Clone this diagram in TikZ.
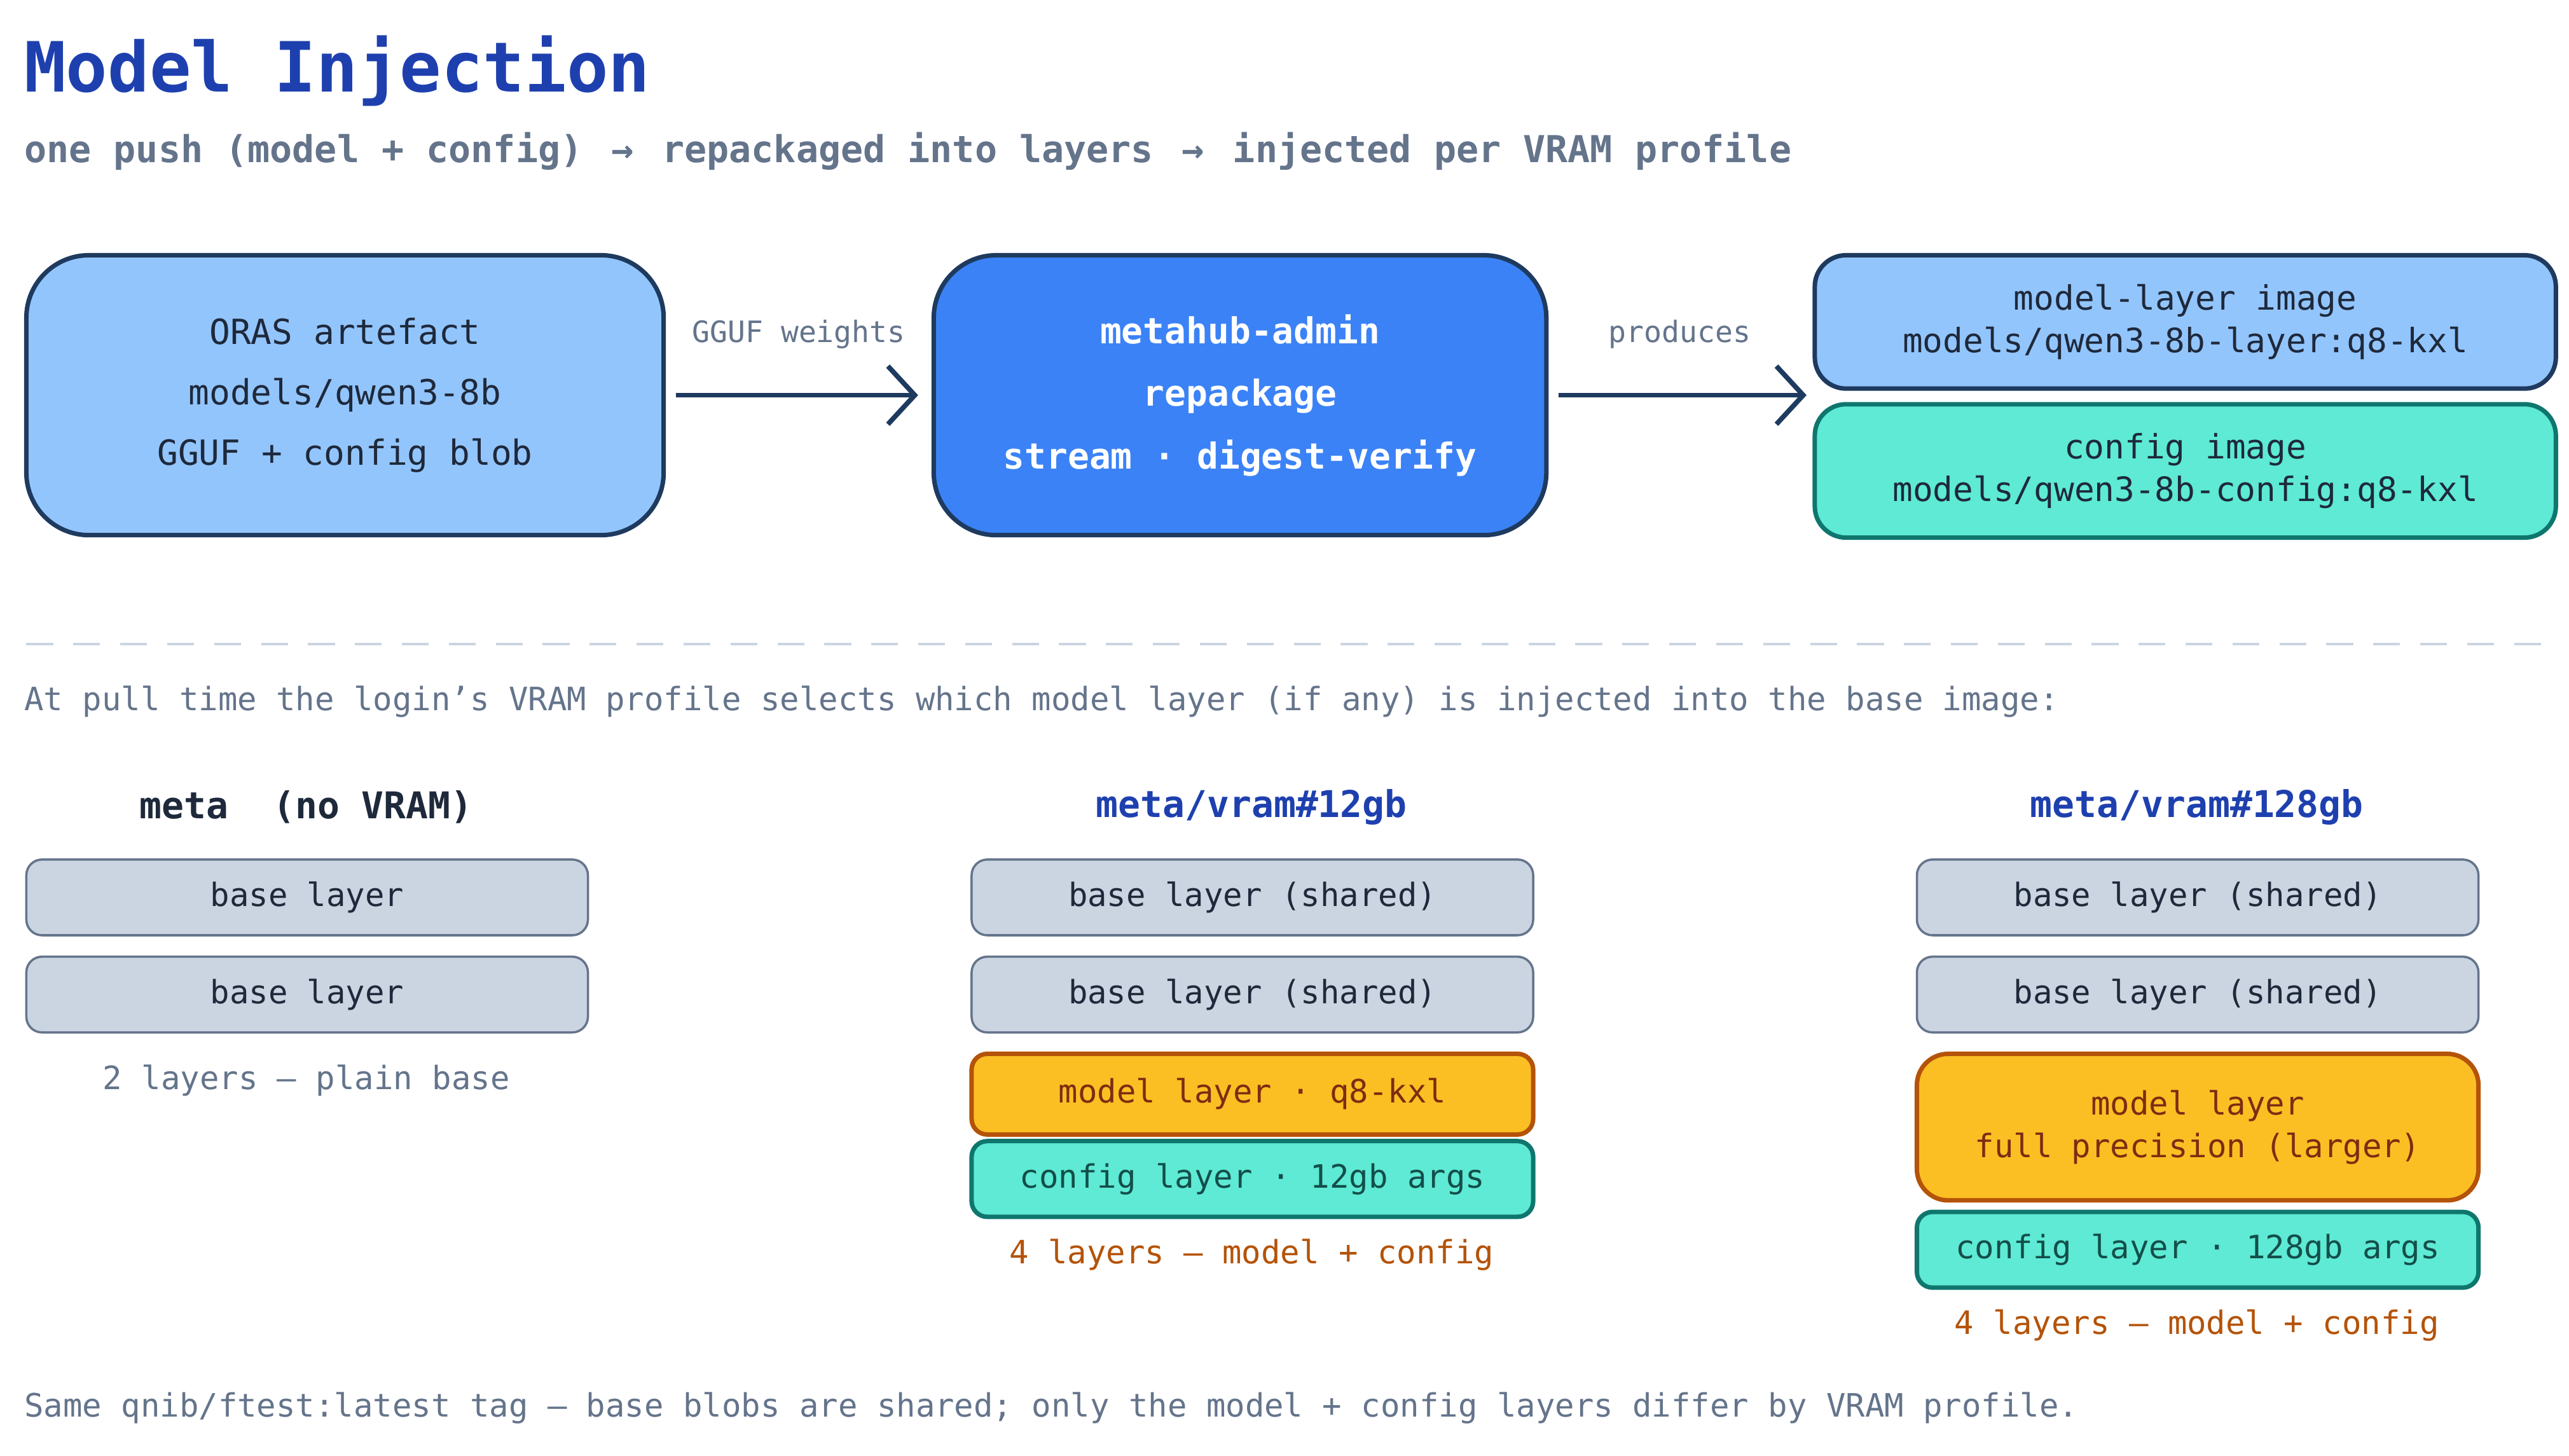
\documentclass[tikz,border=0pt]{standalone}
\usepackage{fontspec}
\setmainfont{DejaVu Sans Mono}
\usetikzlibrary{arrows.meta,positioning}
\definecolor{navy}{HTML}{1E3A5F}
\definecolor{ink}{HTML}{1E293B}
\definecolor{slate}{HTML}{64748B}
\definecolor{titleblue}{HTML}{1E40AF}
\definecolor{lightblue}{HTML}{93C5FD}
\definecolor{midblue}{HTML}{3B82F6}
\definecolor{tealfill}{HTML}{5EEAD4}
\definecolor{tealdraw}{HTML}{0F766E}
\definecolor{tealink}{HTML}{134E4A}
\definecolor{amberfill}{HTML}{FBBF24}
\definecolor{amberdraw}{HTML}{B45309}
\definecolor{amberink}{HTML}{7C2D12}
\definecolor{basefill}{HTML}{CBD5E1}
\definecolor{dashgray}{HTML}{CBD5E1}

\tikzset{
    big/.style={draw=navy,line width=2pt,rounded corners=28pt,align=center,font=\fontsize{15.5}{27}\selectfont,text=ink},
    img/.style={draw=navy,line width=2pt,rounded corners=14pt,align=center,font=\fontsize{15}{19}\selectfont,text=ink,minimum width=450*0.0259cm,minimum height=81*0.0259cm},
    base/.style={draw=slate,fill=basefill,line width=1pt,rounded corners=7pt,font=\fontsize{14.4}{17}\selectfont,text=ink,minimum width=341*0.0259cm,minimum height=46*0.0259cm},
    mdl/.style={base,draw=amberdraw,fill=amberfill,line width=2pt,text=amberink,align=center,font=\fontsize{14.4}{19}\selectfont},
    cfg/.style={base,draw=tealdraw,fill=tealfill,line width=2pt,text=tealink},
    flow/.style={draw=navy,line width=2.2pt,-{Straight Barb[length=12pt,width=26pt,line width=2.2pt]}},
    note/.style={text=slate,font=\fontsize{14.4}{17}\selectfont},
    head/.style={font=\bfseries\fontsize{16.5}{20}\selectfont},
    tally/.style={text=amberdraw,font=\fontsize{14.4}{17}\selectfont},
}

\begin{document}
\begin{tikzpicture}[x=0.0259cm,y=-0.0259cm]
    \useasboundingbox (0,0) rectangle (1560,884);

    % heading
    \node[anchor=west,text=titleblue,font=\bfseries\fontsize{31}{36}\selectfont] (title) at (10,43) {Model Injection};
    \node[anchor=west,text=slate,font=\bfseries\fontsize{16.6}{20}\selectfont] (sub) at (10,92)
        {one push (model + config) \,\textrightarrow\, repackaged into layers \,\textrightarrow\, injected per VRAM profile};

    % push -> repackage -> images
    \node[big,fill=lightblue,minimum width=387*0.0259cm,minimum height=170*0.0259cm] (oras) at (209.5,240)
        {ORAS artefact\\models/qwen3-8b\\GGUF + config blob};
    \node[big,fill=midblue,text=white,font=\bfseries\fontsize{16}{28}\selectfont,minimum width=372*0.0259cm,minimum height=170*0.0259cm] (admin) at (753,240)
        {metahub-admin\\repackage\\stream · digest-verify};
    \node[img,fill=lightblue] (mimg) at (1327,195.5) {model-layer image\\models/qwen3-8b-layer:q8-kxl};
    \node[img,fill=tealfill,draw=tealdraw] (cimg) at (1327,286) {config image\\models/qwen3-8b-config:q8-kxl};
    \coordinate (cin) at (1097,240);

    \draw[flow] (oras.east) ++(6,0) coordinate (o1) -- ([xshift=-6pt]admin.west);
    \draw[flow] (admin.east) ++(6,0) coordinate (a1) -- (cin);
    \node[note,font=\fontsize{13.2}{16}\selectfont] (lw) at (485,203) {GGUF weights};
    \node[note,font=\fontsize{13.2}{16}\selectfont] (lp) at (1020,203) {produces};

    \draw[dashgray,line width=1.2pt,dash pattern=on 12pt off 9pt] (16,391) -- (1552,391);
    \node[note,anchor=west] (pull) at (10,426)
        {At pull time the login's VRAM profile selects which model layer (if any) is injected into the base image:};

    % no VRAM
    \node[head,text=ink] (h1) at (186,490) {meta\ \ (no VRAM)};
    \node[base] (a1) at (186.5,545) {base layer};
    \node[base] (a2) at (186.5,604) {base layer};
    \node[note] (t1) at (186,656) {2 layers — plain base};

    % 12gb
    \node[head,text=titleblue] (h2) at (760,490) {meta/vram\#12gb};
    \node[base] (b1) at (760.5,545) {base layer (shared)};
    \node[base] (b2) at (760.5,604) {base layer (shared)};
    \node[mdl,minimum height=49*0.0259cm] (b3) at (760.5,664.5) {model layer · q8-kxl};
    \node[cfg] (b4) at (760.5,716) {config layer · 12gb args};
    \node[tally] (t2) at (760,762) {4 layers — model + config};

    % 128gb
    \node[head,text=titleblue] (h3) at (1334,490) {meta/vram\#128gb};
    \node[base] (c1) at (1334.5,545) {base layer (shared)};
    \node[base] (c2) at (1334.5,604) {base layer (shared)};
    \node[mdl,minimum height=89*0.0259cm,rounded corners=14pt] (c3) at (1334.5,684.5) {model layer\\full precision (larger)};
    \node[cfg] (c4) at (1334.5,759) {config layer · 128gb args};
    \node[tally] (t3) at (1334,805) {4 layers — model + config};

    \node[note,anchor=west] (foot) at (10,855)
        {Same qnib/ftest:latest tag — base blobs are shared; only the model + config layers differ by VRAM profile.};
\end{tikzpicture}
\end{document}
